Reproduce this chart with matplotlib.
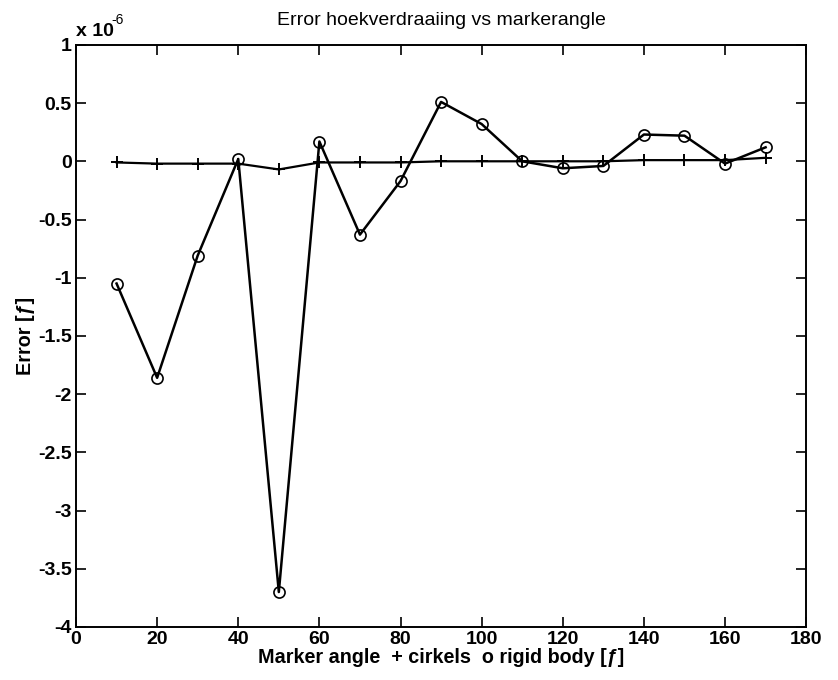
import matplotlib
matplotlib.use("Agg")
from matplotlib import pyplot as plt

plt.rcParams['font.family'] = ['Liberation Sans', 'DejaVu Sans']

# marker angle [deg]
angles = [10, 20, 30, 40, 50, 60, 70, 80, 90, 100, 110, 120, 130, 140, 150, 160, 170]

# error, rigid body (circles), in units of 1e-6
err_rigid = [-1.05, -1.86, -0.81, 0.02, -3.70, 0.17, -0.63, -0.17, 0.51, 0.32,
             0.0, -0.06, -0.04, 0.23, 0.22, -0.02, 0.12]

# error, marker angle (plus), in units of 1e-6
err_marker = [-0.01, -0.02, -0.02, -0.02, -0.07, -0.01, -0.01, -0.01, 0.0, 0.0,
              0.0, 0.0, 0.0, 0.01, 0.01, 0.01, 0.03]

xticks = [0, 20, 40, 60, 80, 100, 120, 140, 160, 180]
yticks = [-4, -3.5, -3, -2.5, -2, -1.5, -1, -0.5, 0, 0.5, 1]
ytick_labels = ['-4', '-3.5', '-3', '-2.5', '-2', '-1.5', '-1', '-0.5', '0', '0.5', '1']

fig = plt.figure(figsize=(8.38, 6.8), dpi=100)
ax = fig.add_axes([0.0907, 0.078, 0.8713, 0.856])

ax.plot(angles, err_marker, color='black', lw=1.6, marker='+', ms=9, mew=1.4)
ax.plot(angles, err_rigid, color='black', lw=1.8, marker='o', ms=8,
        mfc='none', mew=1.2)

ax.set_xlim(0, 180)
ax.set_ylim(-4, 1)
ax.set_xticks(xticks)
ax.set_yticks(yticks)
ax.set_yticklabels(ytick_labels)
ax.tick_params(direction='in', top=True, right=True, length=7, width=1.2,
               labelsize=14, pad=3)
for lab in ax.get_xticklabels() + ax.get_yticklabels():
    lab.set_fontweight('bold')
for s in ax.spines.values():
    s.set_linewidth(1.4)

ax.text(0.0, 1.008, 'x 10', transform=ax.transAxes, fontsize=14,
        ha='left', va='bottom', fontweight='bold')
ax.text(0.049, 1.03, '-6', transform=ax.transAxes, fontsize=10,
        ha='left', va='bottom')
ax.set_title('Error hoekverdraaiing vs markerangle', fontsize=14, pad=14)
ax.set_xlabel('Marker angle  + cirkels  o rigid body [ƒ]', fontsize=14.2,
              fontweight='bold', labelpad=0)
ax.set_ylabel('Error [ƒ]', fontsize=14.2, fontweight='bold', labelpad=2)

plt.savefig('out.png', dpi=100)
